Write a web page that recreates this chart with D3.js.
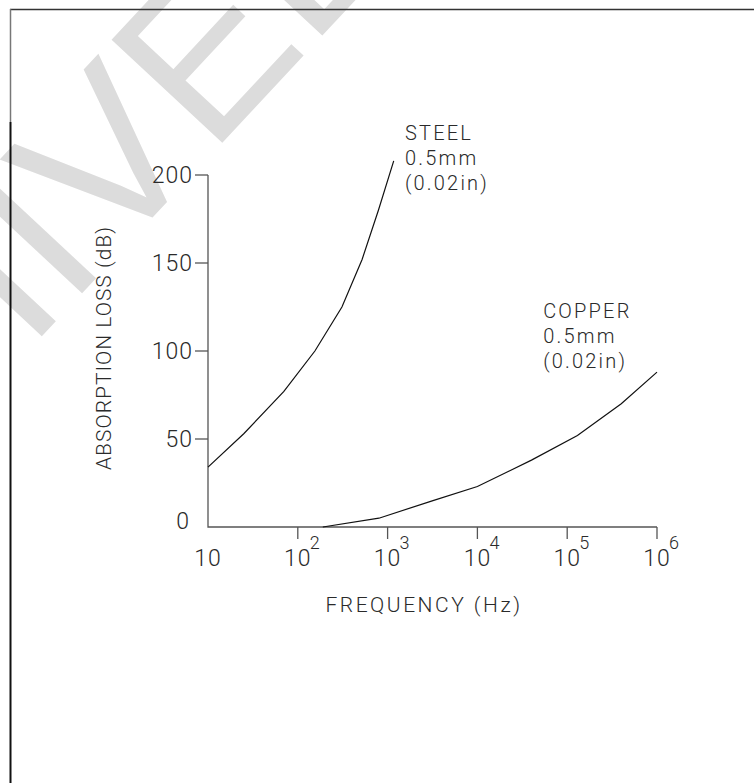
<!DOCTYPE html>
<html>
<head>
<meta charset="utf-8">
<script src="https://cdn.jsdelivr.net/npm/d3@7"></script>
<style>
  body { margin: 0; background: #fff; }
  text { font-family: Roboto, "DejaVu Sans", sans-serif; font-weight: 300; fill: #2a2a2a; }
  .axis-line { stroke: #555; stroke-width: 1.3; fill: none; }
  .curve { stroke: #111; stroke-width: 1.2; fill: none; }
</style>
</head>
<body>
<div id="display"></div>
<script>
// steel 0.5mm, frequency (Hz) vs absorption loss (dB)
var steelFreq = [10, 25, 70, 155, 310, 520, 790, 1170];
var steelLoss = [34, 53, 77, 100, 125, 152, 180, 208];

// copper 0.5mm
var copperFreq = [190, 800, 3200, 10000, 40000, 130000, 400000, 1000000];
var copperLoss = [0, 5, 15, 23, 38, 52, 70, 88];

var yTicks = [0, 50, 100, 150, 200];
var xTicks = [10, 1e2, 1e3, 1e4, 1e5, 1e6];
var xTickExp = ['', '2', '3', '4', '5', '6'];

var labels = [
  { text: ['STEEL', '0.5mm', '(0.02in)'], f: 1560, db: 220 },
  { text: ['COPPER', '0.5mm', '(0.02in)'], f: 54000, db: 118.5 }
];

var svg = d3.select('#display')
    .append('svg')
    .attr('width', 754)
    .attr('height', 783);

// watermark
svg.append('text')
    .attr('transform', 'translate(-357, 764) rotate(-47)')
    .attr('font-size', 220)
    .style('font-family', '"Liberation Sans", sans-serif')
    .style('font-weight', 400)
    .style('fill', '#dcdcdc')
    .text('ARCHIVED');

// page frame
svg.append('line')
    .attr('x1', 10).attr('x2', 754).attr('y1', 9.5).attr('y2', 9.5)
    .attr('stroke', '#333').attr('stroke-width', 1.5);
svg.append('line')
    .attr('x1', 10.5).attr('x2', 10.5).attr('y1', 9).attr('y2', 122)
    .attr('stroke', '#777').attr('stroke-width', 1.5);
svg.append('line')
    .attr('x1', 10.5).attr('x2', 10.5).attr('y1', 122).attr('y2', 783)
    .attr('stroke', '#111').attr('stroke-width', 2);

var x = d3.scaleLog().domain([10, 1e6]).range([208, 657]);
var y = d3.scaleLinear().domain([0, 200]).range([527, 175]);

var g = svg.append('g');

// axes
g.append('path')
    .attr('class', 'axis-line')
    .attr('d', 'M' + x(10) + ',' + y(200) + 'V' + y(0) + 'H' + x(1e6));

g.selectAll('.ytick')
    .data(yTicks.filter(function (d) { return d > 0; }))
    .enter()
    .append('line')
    .attr('class', 'axis-line')
    .attr('x1', x(10) - 13)
    .attr('x2', x(10))
    .attr('y1', function (d) { return y(d); })
    .attr('y2', function (d) { return y(d); });

g.selectAll('.ylabel')
    .data(yTicks)
    .enter()
    .append('text')
    .attr('x', function (d) { return d === 0 ? 190 : 193; })
    .attr('y', function (d) { return d === 0 ? y(d) - 6 : y(d); })
    .attr('text-anchor', 'end')
    .attr('dominant-baseline', 'central')
    .attr('font-size', 23)
    .attr('letter-spacing', 1)
    .text(function (d) { return d; });

g.selectAll('.xtick')
    .data(xTicks.slice(1))
    .enter()
    .append('line')
    .attr('class', 'axis-line')
    .attr('x1', function (d) { return x(d); })
    .attr('x2', function (d) { return x(d); })
    .attr('y1', y(0))
    .attr('y2', y(0) + 12);

var xl = g.selectAll('.xlabel')
    .data(xTicks)
    .enter()
    .append('g')
    .attr('transform', function (d) { return 'translate(' + x(d) + ',566)'; });
xl.append('text')
    .attr('text-anchor', 'middle')
    .attr('font-size', 23)
    .attr('letter-spacing', 1)
    .text('10');
xl.append('text')
    .attr('x', 12)
    .attr('y', -17)
    .attr('font-size', 18)
    .text(function (d, i) { return xTickExp[i]; });

// axis titles
g.append('text')
    .attr('x', 424)
    .attr('y', 612)
    .attr('text-anchor', 'middle')
    .attr('font-size', 21)
    .attr('letter-spacing', 2.5)
    .text('FREQUENCY (Hz)');
g.append('text')
    .attr('transform', 'translate(111,348) rotate(-90)')
    .attr('text-anchor', 'middle')
    .attr('font-size', 21)
    .attr('letter-spacing', 1)
    .text('ABSORPTION LOSS (dB)');

// curves
var line = d3.line()
    .x(function (d) { return x(d[0]); })
    .y(function (d) { return y(d[1]); });
g.append('path')
    .attr('class', 'curve')
    .attr('d', line(d3.zip(steelFreq, steelLoss)));
g.append('path')
    .attr('class', 'curve')
    .attr('d', line(d3.zip(copperFreq, copperLoss)));

// curve labels
labels.forEach(function (lab) {
  var t = g.append('text')
      .attr('x', x(lab.f))
      .attr('y', y(lab.db))
      .attr('font-size', 20)
      .attr('letter-spacing', 2.2);
  t.selectAll('tspan')
      .data(lab.text)
      .enter()
      .append('tspan')
      .attr('x', x(lab.f))
      .attr('dy', function (d, i) { return i === 0 ? 0 : 25; })
      .text(function (d) { return d; });
});
</script>
</body>
</html>
